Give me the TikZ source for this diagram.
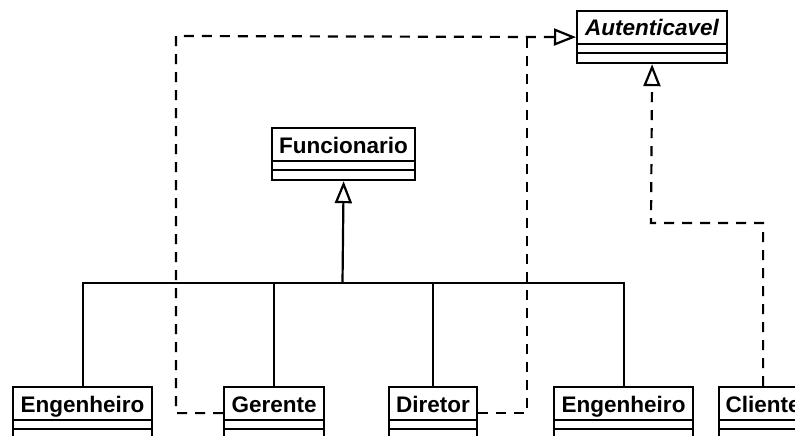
\documentclass[tikz,border=0pt]{standalone}
\usepackage{fontspec}
\setmainfont{Liberation Sans}
\usetikzlibrary{arrows.meta,calc}
\tikzset{
  cls/.style={draw, line width=2.2pt, minimum height=52pt, inner sep=0pt, anchor=north west},
  hdr/.style={font=\fontsize{22.5}{26}\selectfont\bfseries, inner sep=0pt, anchor=base},
  ln/.style={line width=2.2pt},
  gen/.style={line width=2.2pt, -{Triangle[open,length=22pt,width=17pt]}},
  real/.style={gen, dash pattern=on 10pt off 8pt},
  realplain/.style={line width=2.2pt, dash pattern=on 10pt off 8pt}
}
\newcommand\umlclass[6][]{%
  \node[cls, minimum width=#5pt] (#2) at (#3,#4) {};
  \node[hdr,#1] (#2t) at ($(#2.north)+(0,26)$) {#6};
  \draw[ln] ($(#2.north west)+(1,34)$) -- ($(#2.north east)+(-1,34)$);
  \draw[ln] ($(#2.north west)+(1,43)$) -- ($(#2.north east)+(-1,43)$);
}
\begin{document}
\begin{tikzpicture}[x=1pt,y=-1pt]
\clip (0,0) rectangle (795,436);
\umlclass[font=\fontsize{22.5}{26}\selectfont\bfseries\itshape]{aut}{576}{10}{150}{Autenticavel}
\umlclass{func}{271}{127}{143}{Funcionario}
\umlclass{engA}{12}{386}{139}{Engenheiro}
\umlclass{ger}{223}{386}{100}{Gerente}
\umlclass{dir}{388}{386}{88}{Diretor}
\umlclass{engB}{553}{386}{139}{Engenheiro}
\umlclass{cli}{718}{386}{88}{Cliente}

% generalization tree
\coordinate (bar) at (342.5,283);
\draw[ln] (engA.north) |- (bar) -| (engB.north);
\draw[ln] (ger.north) |- (bar);
\draw[ln] (dir.north) |- (bar);
\draw[gen] (bar) -- (func.south);

% realizations
\coordinate (gl) at (176,36);
\coordinate (dr) at (527,36);
\coordinate (cb) at (651,223);
\draw[real] (ger.west) -| (gl) -- (aut.west);
\draw[realplain] (dir.east) -| (dr);
\draw[real] (cli.north) |- (cb) -- (aut.south);
\end{tikzpicture}
\end{document}
